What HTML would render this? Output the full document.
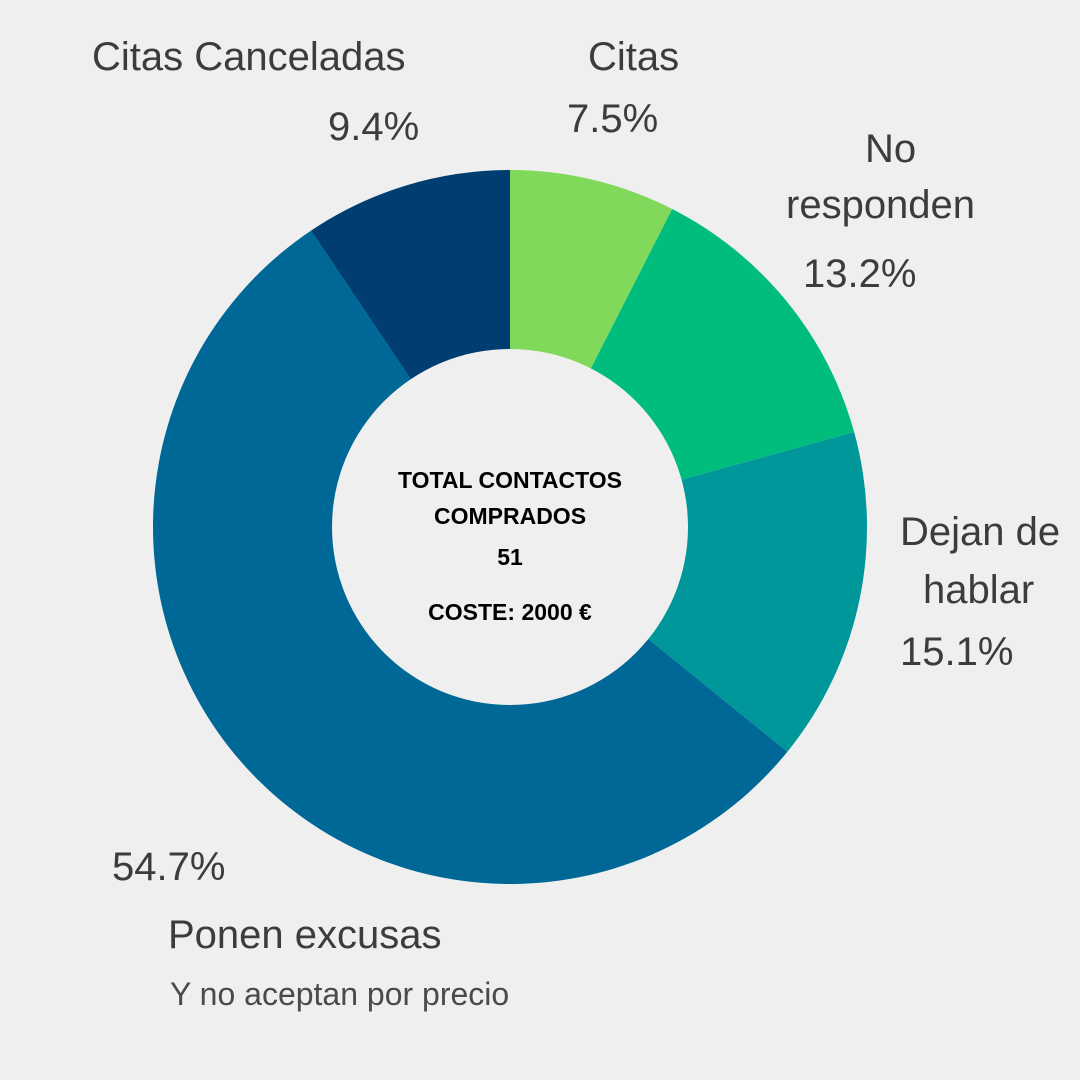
<!DOCTYPE html>
<html><head><meta charset="utf-8"><style>
body{margin:0;background:#efefef;}
svg{display:block;font-family:"Liberation Sans",sans-serif;}
.lbl{font-size:40px;fill:#3c3c3c;}
.ctr{font-size:23px;font-weight:bold;fill:#000;text-anchor:middle;}
</style></head><body>
<svg id="chart" width="1080" height="1080" viewBox="0 0 1080 1080">
<rect width="1080" height="1080" fill="#efefef"/>
<g id="slices"></g>
<circle cx="510" cy="527" r="178" fill="#efefef"/>
<text class="ctr" x="510" y="488">TOTAL CONTACTOS</text>
<text class="ctr" x="510" y="524">COMPRADOS</text>
<text class="ctr" x="510" y="565">51</text>
<text class="ctr" x="510" y="620">COSTE: 2000 €</text>
<text class="lbl" x="92" y="70">Citas Canceladas</text>
<text class="lbl" x="328" y="140">9.4%</text>
<text class="lbl" x="588" y="70">Citas</text>
<text class="lbl" x="567" y="132">7.5%</text>
<text class="lbl" x="865" y="162">No</text>
<text class="lbl" x="786" y="218">responden</text>
<text class="lbl" x="803" y="287">13.2%</text>
<text class="lbl" x="900" y="545">Dejan de</text>
<text class="lbl" x="923" y="603">hablar</text>
<text class="lbl" x="900" y="665">15.1%</text>
<text class="lbl" x="112" y="880">54.7%</text>
<text class="lbl" x="168" y="948">Ponen excusas</text>
<text x="170" y="1005" style="font-size:32px;fill:#4a4a4a">Y no aceptan por precio</text>
</svg>
<script>
const categories=["Citas","No responden","Dejan de hablar","Ponen excusas","Citas Canceladas"];
const values=[7.5,13.2,15.1,54.7,9.4];
const colors=["#80d95a","#00bd7e","#00979a","#006896","#003e71"];
const cx=510,cy=527,R=357;
const g=document.getElementById('slices');
const total=values.reduce((a,b)=>a+b,0);
function pt(a){return [cx+R*Math.sin(a),cy-R*Math.cos(a)];}
let acc=0;
values.forEach((v,i)=>{
  const a0=acc/total*2*Math.PI;acc+=v;const a1=acc/total*2*Math.PI;
  const p0=pt(a0),p1=pt(a1);
  const large=(a1-a0)>Math.PI?1:0;
  const p=document.createElementNS('http://www.w3.org/2000/svg','path');
  p.setAttribute('d',`M${cx},${cy}L${p0[0]},${p0[1]}A${R},${R} 0 ${large} 1 ${p1[0]},${p1[1]}Z`);
  p.setAttribute('fill',colors[i]);
  
  
  g.appendChild(p);
});
</script>
</body></html>
